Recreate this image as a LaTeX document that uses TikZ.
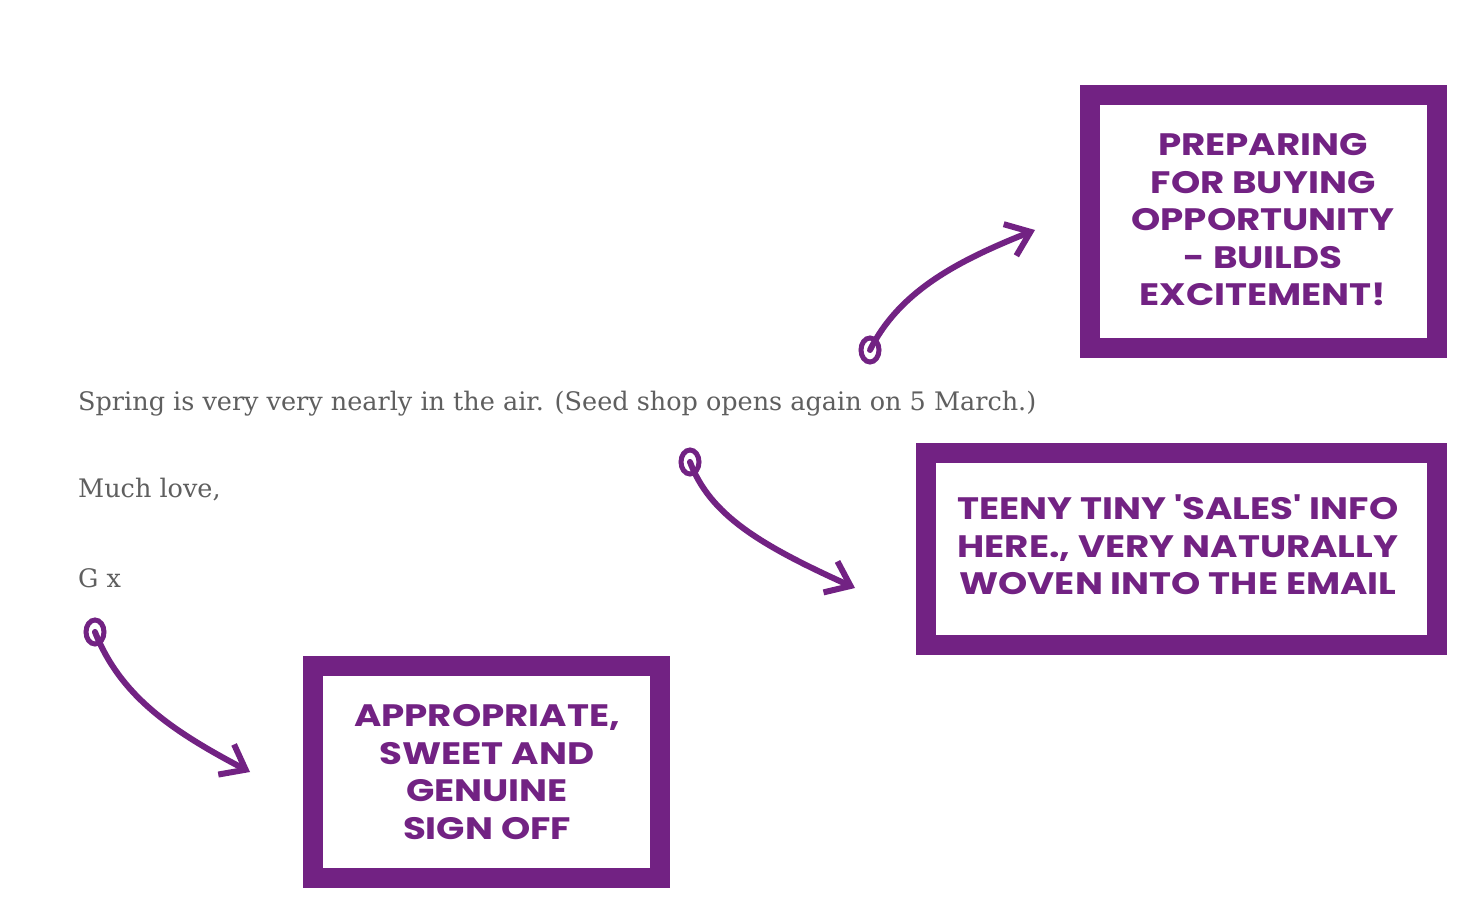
\documentclass[tikz,border=0pt]{standalone}
\usepackage{fontspec}
\setmainfont{DejaVu Serif}
\newfontfamily\boxfont{Poppins}[UprightFont=* Bold]
\usetikzlibrary{arrows.meta}
\definecolor{plum}{HTML}{722283}
\definecolor{txtgrey}{HTML}{5F5F5F}
\tikzset{
  frame/.style={draw=plum,line width=20pt,fill=white},
  label/.style={text=plum,font=\boxfont\fontsize{31}{37.5}\selectfont,align=center,xscale=1.2},
  body/.style={text=txtgrey,font=\fontsize{25.5}{30}\selectfont,anchor=base west,inner sep=0pt},
  arr/.style={draw=plum,line width=6pt,line cap=round,-{Straight Barb[length=22pt,width=34pt,line width=6pt]}},
  loopy/.style={draw=plum,line width=5pt}
}
\begin{document}
\begin{tikzpicture}[x=1pt,y=-1pt]
\useasboundingbox (0,0) rectangle (1474,917);
\fill[white] (0,0) rectangle (1474,917);
\draw[frame] (1090,95) rectangle (1437,348);
\node[label] (t1) at (1263,220) {PREPARING\\FOR BUYING\\OPPORTUNITY\\- BUILDS\\EXCITEMENT!};
\draw[frame] (926,453) rectangle (1437,645);
\node[label] (t2) at (1178,545) {TEENY TINY 'SALES' INFO\\HERE., VERY NATURALLY\\WOVEN INTO THE EMAIL};
\draw[frame] (313,666) rectangle (660,878);
\node[label] (t3) at (487,772) {APPROPRIATE,\\SWEET AND\\GENUINE\\SIGN OFF};
\node[body] (s1) at (78,410) {Spring is very very nearly in the air. (Seed shop opens again on 5 March.)};
\node[body] (s2) at (78,497) {Much love,};
\node[body] (s3) at (78,587) {G x};
\coordinate (a1) at (870,350);
\coordinate (b1) at (1035,230);
\coordinate (a2) at (690,462);
\coordinate (b2) at (855,588);
\coordinate (a3) at (95,632);
\coordinate (b3) at (250,772);
\draw[loopy] (a1) ellipse (9pt and 12pt);
\draw[loopy] (a2) ellipse (9pt and 12pt);
\draw[loopy] (a3) ellipse (9pt and 12pt);
\draw[arr] (a1) .. controls (900,290) and (960,260) .. (b1);
\draw[arr] (a2) .. controls (710,515) and (760,545) .. (b2);
\draw[arr] (a3) .. controls (120,695) and (170,730) .. (b3);
\end{tikzpicture}
\end{document}
